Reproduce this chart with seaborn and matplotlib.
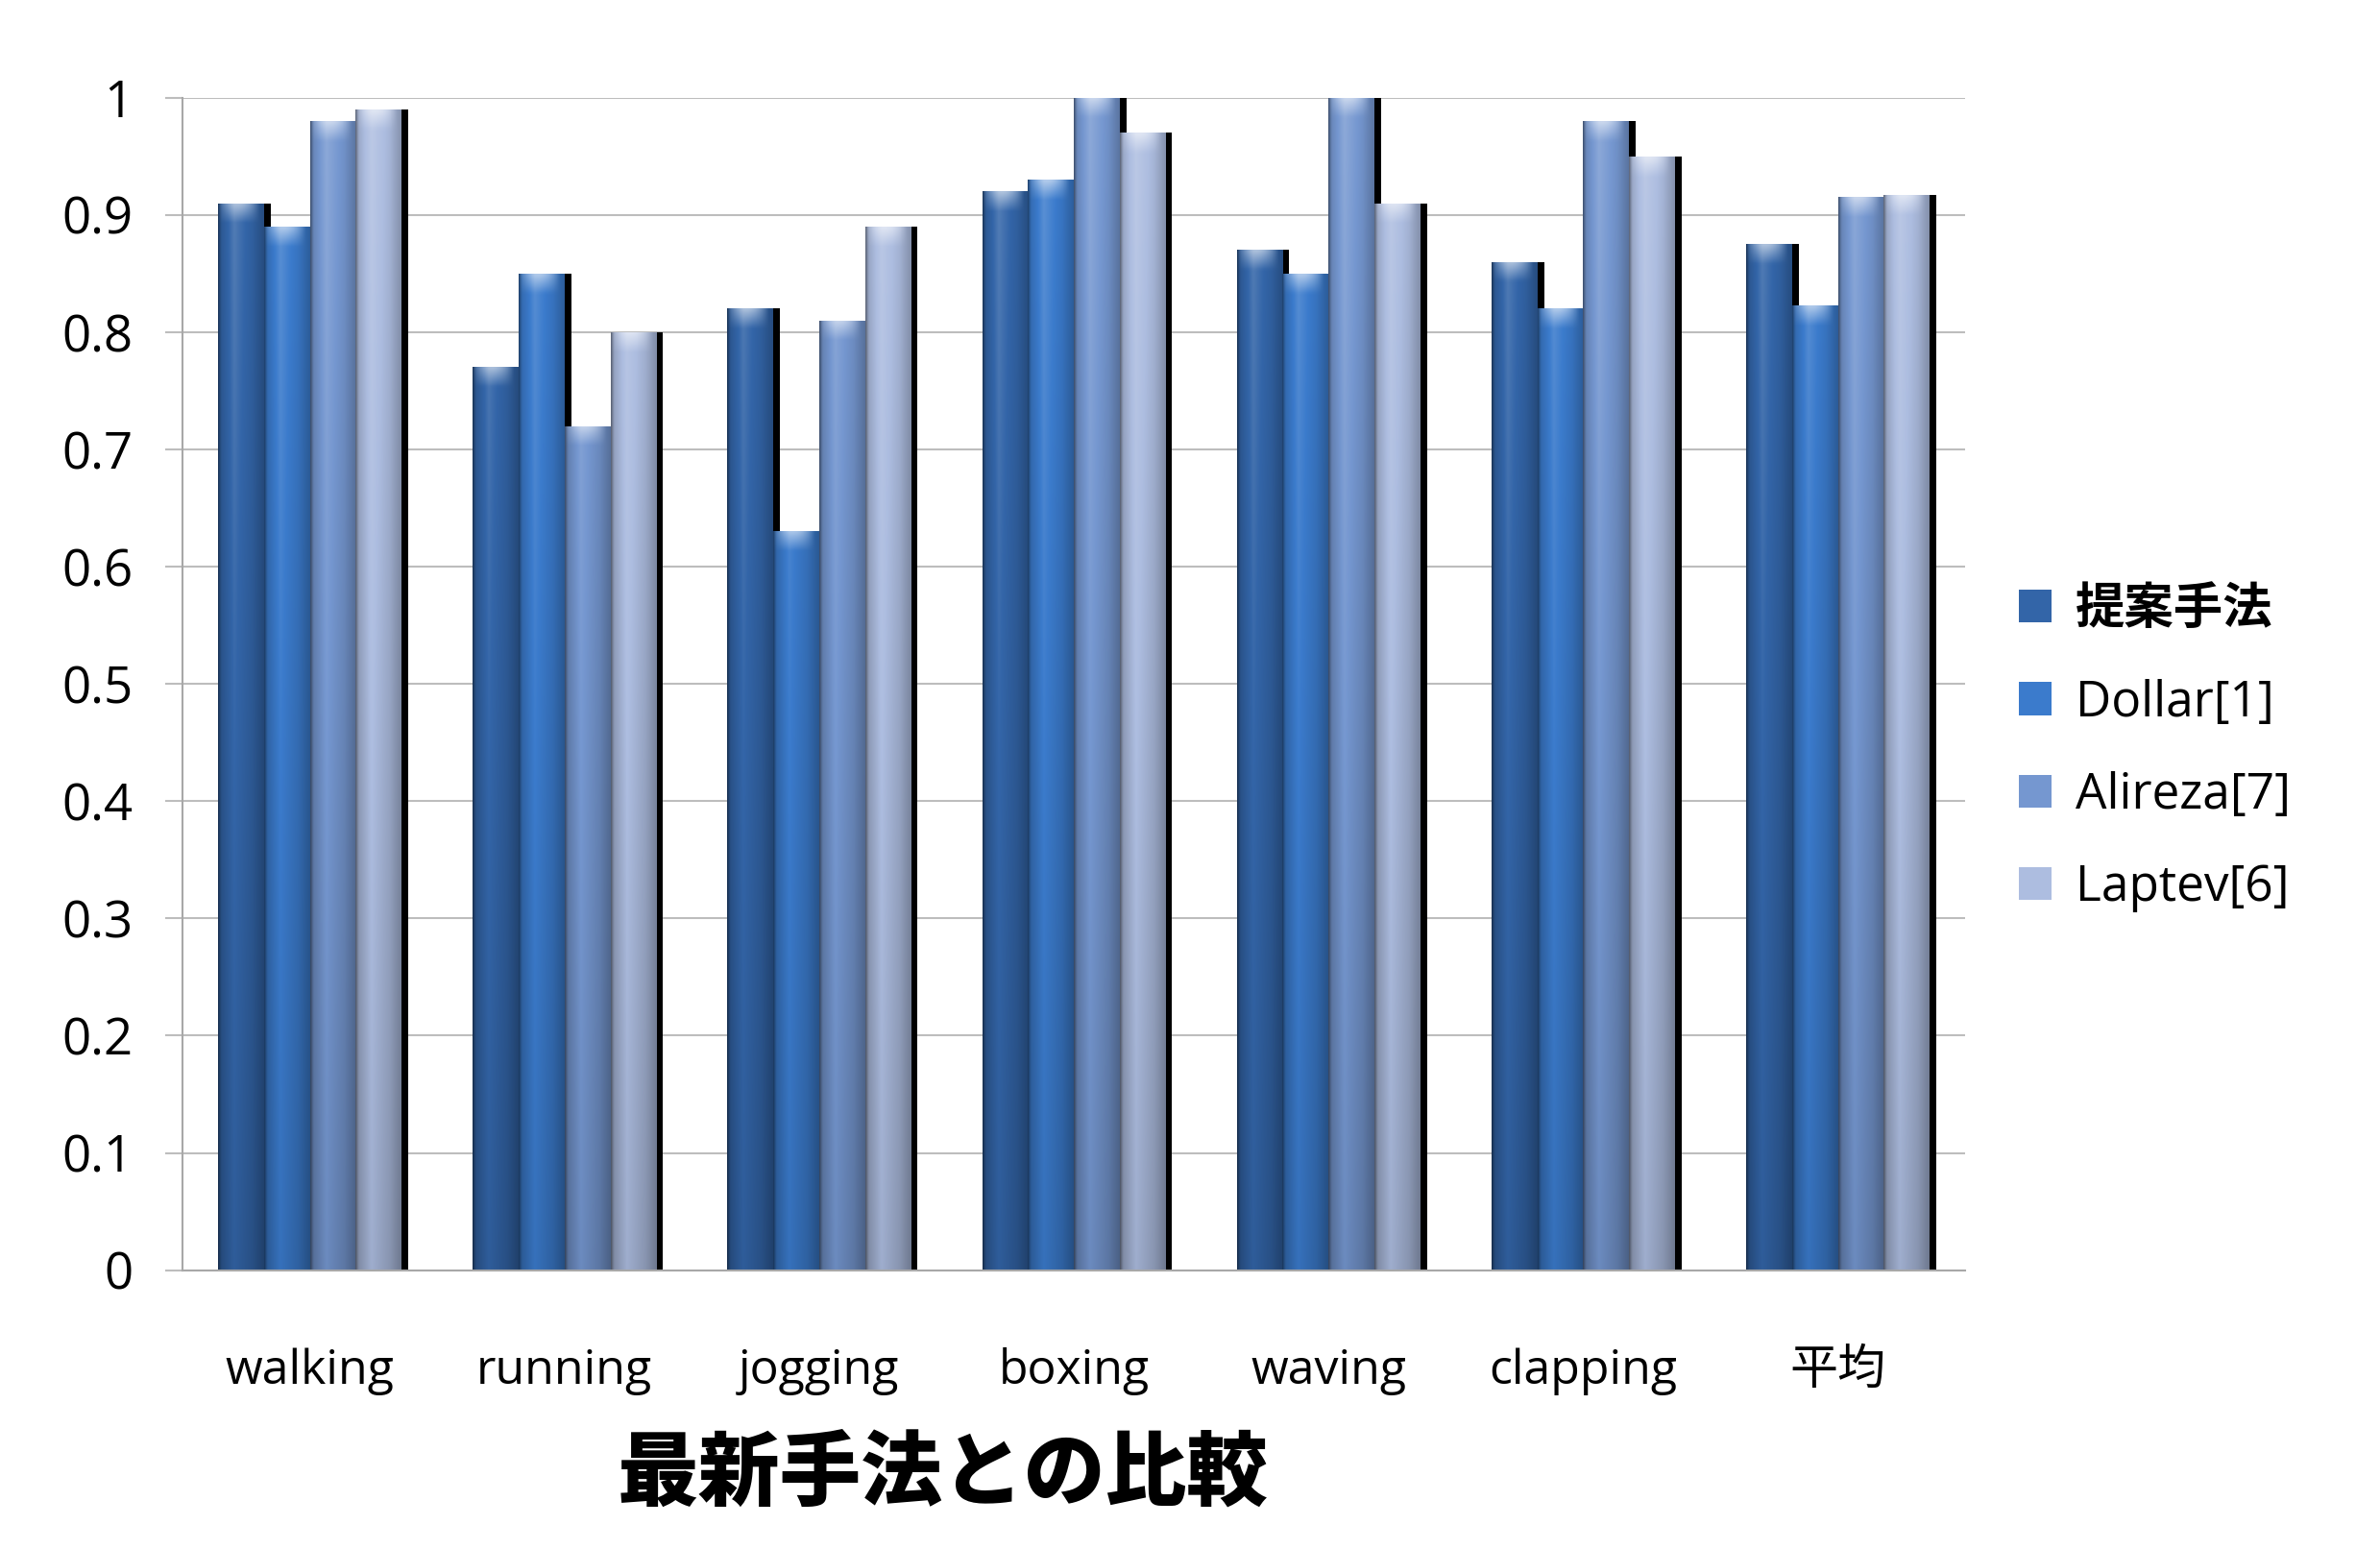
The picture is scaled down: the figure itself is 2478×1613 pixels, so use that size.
import numpy as np
import pandas as pd
import seaborn as sns
import matplotlib
matplotlib.use("Agg")
import matplotlib.pyplot as plt
import matplotlib.patheffects as pe
from matplotlib.colors import to_rgb
from matplotlib.ticker import FixedLocator

# data
categories = ["walking", "running", "jogging", "boxing", "waving", "clapping", "平均"]
methods = ["提案手法", "Dollar[1]", "Alireza[7]", "Laptev[6]"]
proposed = [0.91, 0.77, 0.82, 0.92, 0.87, 0.86, 0.875]
dollar = [0.89, 0.85, 0.63, 0.93, 0.85, 0.82, 0.823]
alireza = [0.98, 0.72, 0.81, 1.00, 1.00, 0.98, 0.915]
laptev = [0.99, 0.80, 0.89, 0.97, 0.91, 0.95, 0.917]
yticks = [0, 0.1, 0.2, 0.3, 0.4, 0.5, 0.6, 0.7, 0.8, 0.9, 1]
ytick_labels = ["0", "0.1", "0.2", "0.3", "0.4", "0.5", "0.6", "0.7", "0.8", "0.9", "1"]
title = "最新手法との比較"

df = pd.DataFrame({"category": categories * 4,
                   "method": np.repeat(methods, len(categories)),
                   "value": proposed + dollar + alireza + laptev})

colors = ["#3365a8", "#3b7bcc", "#7597d0", "#adbde0"]

sns.set_style("white")
plt.rcParams["font.family"] = ["Open Sans", "Noto Sans CJK JP"]
plt.rcParams["text.color"] = "black"
plt.rcParams["xtick.color"] = "black"
plt.rcParams["ytick.color"] = "black"

fig = plt.figure(figsize=(24.78, 16.13), dpi=100)
ax = fig.add_axes([0.0767, 0.180, 0.749, 0.757])

sns.barplot(data=df, x="category", y="value", hue="method", order=categories,
            hue_order=methods, palette=colors, width=0.72, gap=0,
            saturation=1, linewidth=0, ax=ax)


def shade_bar(bar, color, z):
    # cylinder-like shading, darker toward the bottom, light cap on top
    x0, w, h = bar.get_x(), bar.get_width(), bar.get_height()
    base = np.array(to_rgb(color))
    t = np.linspace(0, 1, 80)
    f = np.interp(t, [0, 0.07, 0.35, 0.75, 1], [0.55, 0.9, 1.12, 0.96, 0.78])
    ys = np.linspace(0, h, 400)
    v = 0.82 + 0.18 * ys
    cap = np.sin(np.pi * np.clip(t * 1.1, 0, 1)) * 0.55
    img = np.zeros((len(ys), len(t), 3))
    for j in range(len(ys)):
        ff = f * v[j]
        col = np.where(ff[:, None] > 1, base + (1 - base) * (ff[:, None] - 1) * 1.5,
                       base * ff[:, None])
        d = h - ys[j]
        if d < 0.016:
            k = (1 - d / 0.016) * cap
            col = col + (1 - col) * k[:, None]
        img[j] = np.clip(col, 0, 1)
    im = ax.imshow(img, extent=(x0, x0 + w, 0, h), origin="lower", aspect="auto",
                   interpolation="bilinear", zorder=z + 0.05)
    im.set_clip_path(bar)


for i, cont in enumerate(ax.containers):
    for bar in cont:
        z = 2 + i * 0.1
        bar.set_zorder(z)
        bar.set_path_effects([pe.SimplePatchShadow(offset=(5, 0), shadow_rgbFace="black", alpha=1.0),
                              pe.Normal()])
        shade_bar(bar, colors[i], z)

ax.set_xlim(-0.5, len(categories) - 0.5)
ax.set_ylim(0, 1)
ax.set_yticks(yticks)
ax.set_yticklabels(ytick_labels)
ax.set_xlabel("")
ax.set_ylabel("")

ax.set_axisbelow(True)
ax.yaxis.grid(True, color="#bdbdbd", linewidth=1.5)
ax.xaxis.grid(False)
for s in ["top", "right"]:
    ax.spines[s].set_visible(False)
for s in ["left", "bottom"]:
    ax.spines[s].set_color("#a8a8a8")
    ax.spines[s].set_linewidth(1.5)

ax.xaxis.set_minor_locator(FixedLocator(np.arange(-0.5, len(categories), 1)))
ax.tick_params(axis="x", which="major", length=0, pad=58, labelsize=36)
ax.tick_params(axis="x", which="minor", length=14, width=1.5, color="#a8a8a8", direction="out")
ax.tick_params(axis="y", length=13, width=1.5, color="#bdbdbd", pad=24, labelsize=38, left=True)

handles, labels = ax.get_legend_handles_labels()
leg = ax.legend(handles, labels, loc="center left", bbox_to_anchor=(0.838, 0.516),
                bbox_transform=fig.transFigure, frameon=False, fontsize=37,
                handlelength=0.65, handleheight=0.65, handletextpad=0.5,
                labelspacing=0.88, borderpad=0)
leg.get_texts()[0].set_fontweight("bold")

fig.text(0.396, 0.048, title, ha="center", va="center", fontsize=61,
         family=["Noto Sans CJK JP"], fontweight="black")

fig.savefig("out.png", dpi=100)
